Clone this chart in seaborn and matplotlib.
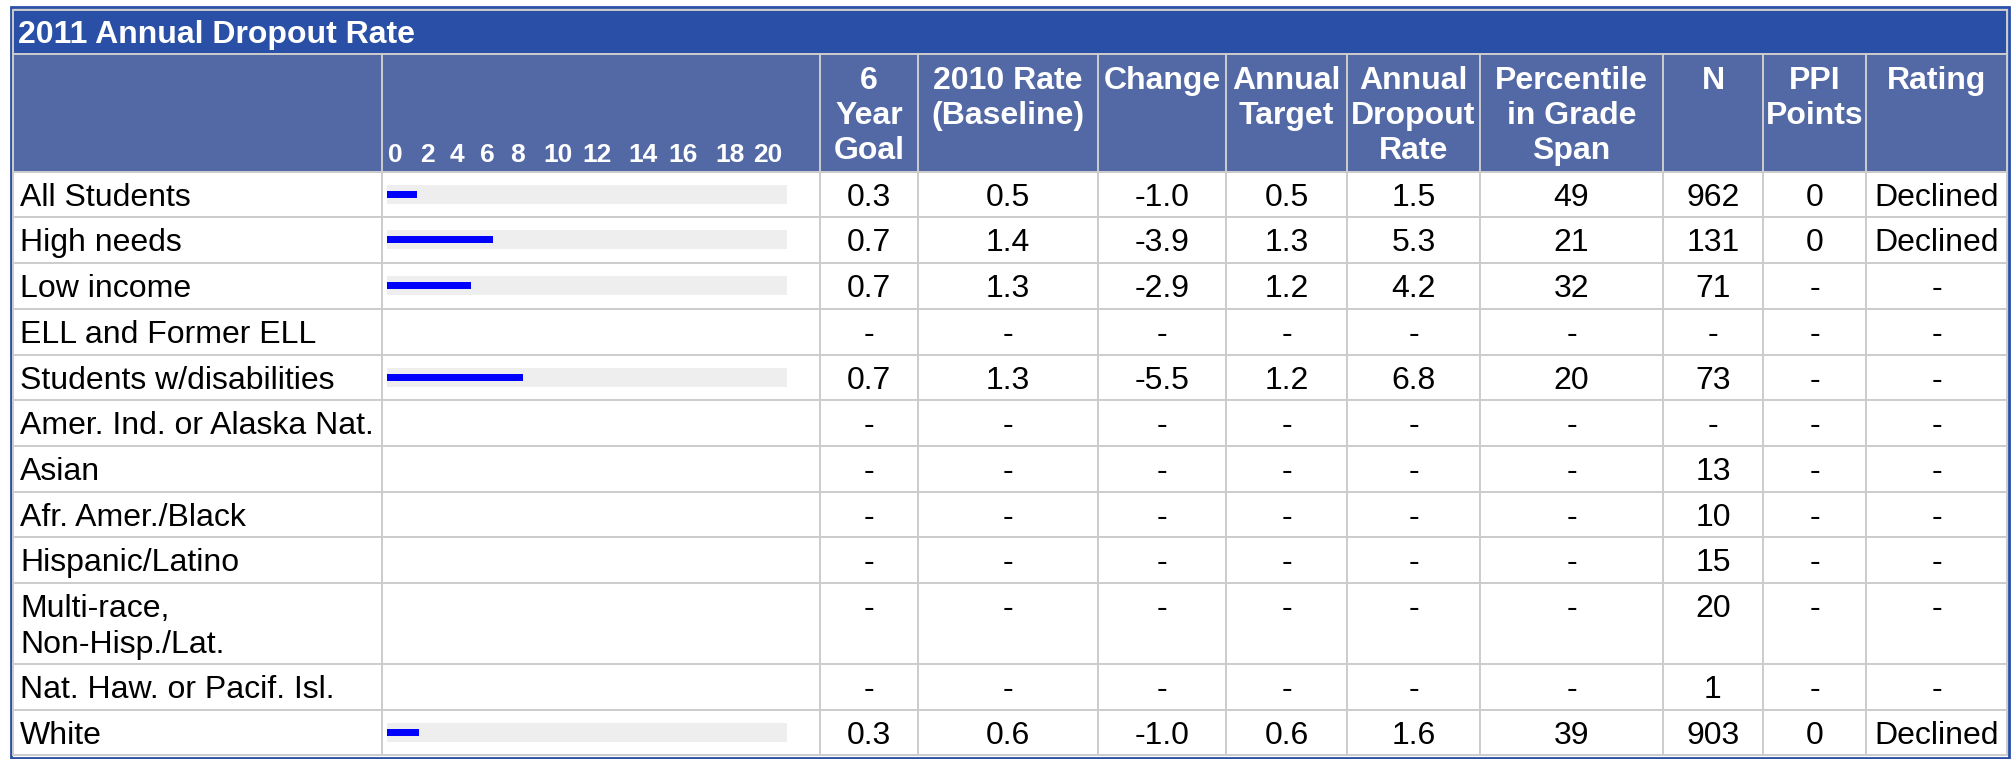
import numpy as np
import pandas as pd
import matplotlib
matplotlib.use("Agg")
import matplotlib.pyplot as plt
from matplotlib.patches import Rectangle
import seaborn as sns

title = "2011 Annual Dropout Rate"
groups = ["All Students", "High needs", "Low income", "ELL and Former ELL",
          "Students w/disabilities", "Amer. Ind. or Alaska Nat.", "Asian",
          "Afr. Amer./Black", "Hispanic/Latino", "Multi-race,\nNon-Hisp./Lat.",
          "Nat. Haw. or Pacif. Isl.", "White"]
goal_6yr = ["0.3", "0.7", "0.7", "-", "0.7", "-", "-", "-", "-", "-", "-", "0.3"]
rate_2010 = ["0.5", "1.4", "1.3", "-", "1.3", "-", "-", "-", "-", "-", "-", "0.6"]
change = ["-1.0", "-3.9", "-2.9", "-", "-5.5", "-", "-", "-", "-", "-", "-", "-1.0"]
annual_target = ["0.5", "1.3", "1.2", "-", "1.2", "-", "-", "-", "-", "-", "-", "0.6"]
dropout_rate = [1.5, 5.3, 4.2, np.nan, 6.8, np.nan, np.nan, np.nan, np.nan,
                np.nan, np.nan, 1.6]
percentile = ["49", "21", "32", "-", "20", "-", "-", "-", "-", "-", "-", "39"]
n_students = ["962", "131", "71", "-", "73", "-", "13", "10", "15", "20", "1", "903"]
ppi_points = ["0", "0", "-", "-", "-", "-", "-", "-", "-", "-", "-", "0"]
rating = ["Declined", "Declined", "-", "-", "-", "-", "-", "-", "-", "-", "-",
          "Declined"]
headers = ["6\nYear\nGoal", "2010 Rate\n(Baseline)", "Change", "Annual\nTarget",
           "Annual\nDropout\nRate", "Percentile\nin Grade\nSpan", "N",
           "PPI\nPoints", "Rating"]
scale_labels = ["0", "2", "4", "6", "8", "10", "12", "14", "16", "18", "20"]
scale_max = 20

# --- page layout (pixels) ---
W, H = 2015, 759
col_edges = [13, 382, 820, 918, 1098, 1226, 1347, 1480, 1663, 1763, 1866, 2007]
row_edges = [172, 217, 263, 309, 355, 400, 446, 492, 537, 583, 664, 710, 755]
scale_label_x = [395, 427, 457, 487, 518, 558, 597, 643, 683, 730, 768]
bar_x0, bar_x1 = 387, 787

TITLE_BLUE = "#294fa7"
HEAD_BLUE = "#5369a6"
GRID = "#cccccc"
FONT = 23
LINE = 35

sns.set_theme(style="white")
plt.rcParams["font.family"] = ["Liberation Sans", "DejaVu Sans"]

fig = plt.figure(figsize=(W / 100, H / 100), dpi=100)
ax = fig.add_axes([0, 0, 1, 1])
ax.set_xlim(0, W)
ax.set_ylim(H, 0)
ax.axis("off")

lw = 1.4
# outer frame + title bar
ax.add_patch(Rectangle((11, 7), 1998, 751, fill=False, edgecolor=TITLE_BLUE, lw=2))
ax.add_patch(Rectangle((13, 10), 1994, 44, facecolor=TITLE_BLUE, edgecolor=GRID, lw=lw))
ax.text(18, 43, title, color="white", fontsize=FONT, fontweight="bold", va="baseline")

# header cells
for i in range(len(col_edges) - 1):
    ax.add_patch(Rectangle((col_edges[i], 54), col_edges[i + 1] - col_edges[i], 118,
                           facecolor=HEAD_BLUE, edgecolor=GRID, lw=lw))
for i, head in enumerate(headers):
    cx = (col_edges[i + 2] + col_edges[i + 3]) / 2
    for k, line in enumerate(head.split("\n")):
        ax.text(cx, 89 + k * LINE, line, color="white", fontsize=FONT,
                fontweight="bold", ha="center", va="baseline")
for lab, x in zip(scale_labels, scale_label_x):
    ax.text(x, 162, lab, color="white", fontsize=19, fontweight="bold",
            ha="center", va="baseline")

# body cells
for r in range(len(groups)):
    for i in range(len(col_edges) - 1):
        ax.add_patch(Rectangle((col_edges[i], row_edges[r]), col_edges[i + 1] - col_edges[i],
                               row_edges[r + 1] - row_edges[r], facecolor="white",
                               edgecolor=GRID, lw=lw))

columns = [goal_6yr, rate_2010, change, annual_target,
           ["-" if np.isnan(v) else f"{v:.1f}" for v in dropout_rate],
           percentile, n_students, ppi_points, rating]
for r, grp in enumerate(groups):
    base = row_edges[r] + 22.5 + 11.5
    for k, line in enumerate(grp.split("\n")):
        ax.text(20, base + k * 36, line, fontsize=FONT, color="black", va="baseline")
    for i, col in enumerate(columns):
        cx = (col_edges[i + 2] + col_edges[i + 3]) / 2
        ax.text(cx, base, col[r], fontsize=FONT, color="black", ha="center", va="baseline")

# bars in the rate column
centers = [row_edges[r] + 22.5 for r in range(len(groups))]
df = pd.DataFrame({"group": groups, "center": centers, "rate": dropout_rate}).dropna()
df["track"] = float(scale_max)
spacing = np.min(np.diff(np.sort(df["center"].unique())))

ax_bar = fig.add_axes([bar_x0 / W, 1 - row_edges[-1] / H, (bar_x1 - bar_x0) / W,
                       (row_edges[-1] - row_edges[0]) / H])
sns.barplot(data=df, x="track", y="center", orient="y", native_scale=True,
            width=19 / spacing, color="#eeeeee", saturation=1, errorbar=None,
            linewidth=0, ax=ax_bar)
sns.barplot(data=df, x="rate", y="center", orient="y", native_scale=True,
            width=7 / spacing, color="#0000ff", saturation=1, errorbar=None,
            linewidth=0, ax=ax_bar)
ax_bar.set_xlim(0, scale_max)
ax_bar.set_ylim(row_edges[-1], row_edges[0])
ax_bar.axis("off")

fig.savefig("out.png", dpi=100)
